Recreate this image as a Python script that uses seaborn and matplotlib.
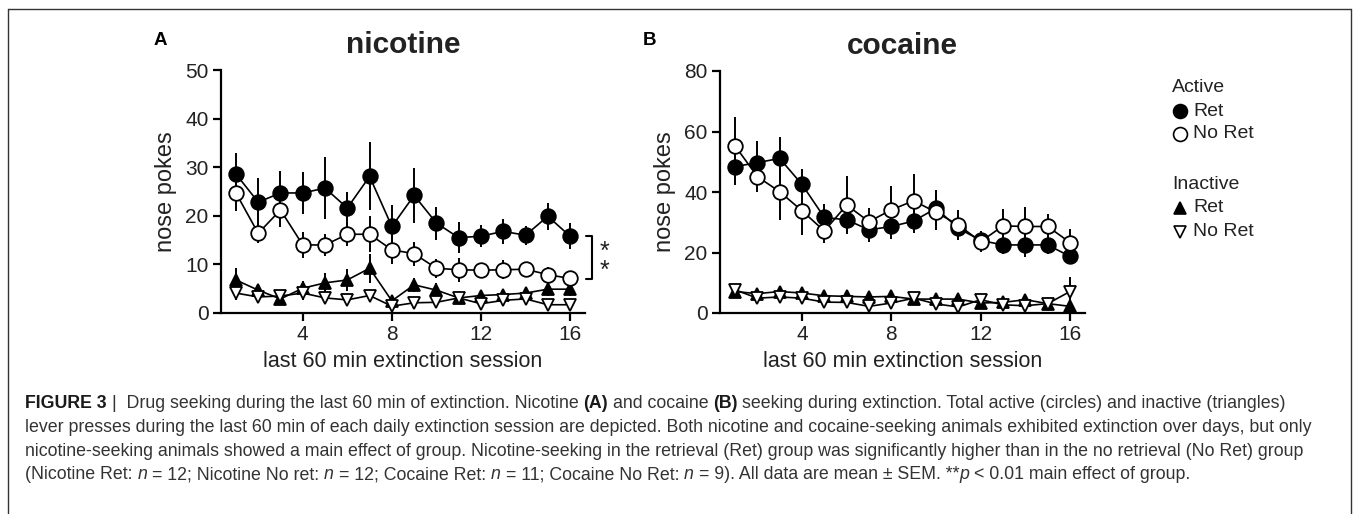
import numpy as np
import pandas as pd
import seaborn as sns
import matplotlib
matplotlib.use("Agg")
import matplotlib.pyplot as plt
from matplotlib.lines import Line2D
from matplotlib import font_manager as fm

# ---------------- data ----------------
sessions = list(range(1, 17))

# Panel A: nicotine
nic_act_ret = [28.6, 22.8, 24.7, 24.7, 25.7, 21.6, 28.1, 17.8, 24.2, 18.5, 15.5, 15.8, 16.8, 16.0, 19.9, 15.8]
nic_act_ret_sem = [4.4, 5.0, 4.5, 4.4, 6.3, 3.3, 7.0, 4.5, 5.6, 3.4, 3.2, 2.3, 2.5, 2.0, 2.8, 2.7]
nic_act_noret = [24.7, 16.4, 21.2, 14.0, 14.0, 16.2, 16.2, 13.0, 12.2, 9.2, 8.9, 8.8, 8.9, 9.0, 7.9, 7.1]
nic_act_noret_sem = [3.8, 2.0, 3.5, 2.7, 2.2, 2.5, 3.7, 3.0, 2.5, 2.0, 2.5, 1.5, 2.0, 1.5, 1.5, 1.0]
nic_inact_ret = [6.8, 4.7, 2.9, 5.1, 6.2, 6.8, 9.2, 2.5, 5.8, 4.7, 3.1, 3.6, 3.8, 4.1, 4.9, 4.9]
nic_inact_ret_sem = [2.4, 1.0, 0.8, 1.5, 2.0, 2.2, 3.0, 0.8, 1.5, 1.5, 0.8, 1.0, 1.0, 1.0, 1.5, 1.5]
nic_inact_noret = [4.1, 3.3, 3.5, 4.1, 3.1, 2.7, 3.6, 1.4, 2.1, 2.2, 3.1, 1.9, 2.6, 2.9, 1.7, 1.7]
nic_inact_noret_sem = [1.5, 1.0, 1.0, 1.5, 1.0, 1.0, 1.0, 0.8, 1.0, 1.0, 1.0, 0.8, 1.0, 1.0, 0.8, 0.8]

# Panel B: cocaine
coc_act_ret = [48.4, 49.7, 51.1, 42.5, 31.6, 30.8, 27.5, 28.6, 30.4, 34.6, 28.0, 24.0, 22.5, 22.5, 22.5, 18.7]
coc_act_ret_sem = [6.0, 7.0, 7.0, 5.0, 4.4, 4.0, 4.0, 4.0, 4.0, 6.0, 4.0, 3.0, 3.0, 4.0, 3.0, 2.5]
coc_act_noret = [55.3, 45.1, 40.1, 33.8, 27.1, 35.7, 30.2, 34.1, 37.1, 33.3, 29.1, 23.6, 28.8, 28.6, 28.6, 23.3]
coc_act_noret_sem = [9.6, 5.0, 9.3, 8.0, 4.0, 9.6, 4.5, 8.0, 8.8, 6.0, 5.0, 3.5, 5.5, 6.3, 4.0, 4.4]
coc_inact_ret = [7.1, 6.4, 7.1, 6.6, 5.7, 5.5, 5.3, 5.5, 4.6, 4.6, 4.6, 3.3, 3.5, 4.4, 3.1, 2.2]
coc_inact_ret_sem = [1.0, 1.0, 1.0, 1.0, 1.0, 1.0, 1.0, 1.0, 1.0, 1.0, 1.0, 0.8, 0.8, 1.0, 0.8, 0.8]
coc_inact_noret = [7.7, 4.9, 5.3, 4.9, 3.6, 3.5, 2.2, 3.3, 4.9, 3.0, 2.0, 4.4, 2.7, 2.4, 3.1, 7.1]
coc_inact_noret_sem = [1.0, 1.5, 1.5, 1.5, 1.0, 1.0, 1.0, 1.0, 1.0, 1.0, 1.0, 1.5, 1.0, 1.0, 1.0, 4.8]

x_ticks = [4, 8, 12, 16]
yticks_a = [0, 10, 20, 30, 40, 50]
yticks_b = [0, 20, 40, 60, 80]
titles = ["nicotine", "cocaine"]
panel_letters = ["A", "B"]
xlabel = "last 60 min extinction session"
ylabel = "nose pokes"
legend_groups = ["Active", "Inactive"]
legend_labels = ["Ret", "No Ret"]

caption_lines = [
    [("FIGURE 3", "bold", "normal"), ("|  Drug seeking during the last 60 min of extinction. Nicotine", "normal", "normal"),
     ("(A)", "bold", "normal"), ("and cocaine", "normal", "normal"), ("(B)", "bold", "normal"),
     ("seeking during extinction. Total active (circles) and inactive (triangles)", "normal", "normal")],
    [("lever presses during the last 60 min of each daily extinction session are depicted. Both nicotine and cocaine-seeking animals exhibited extinction over days, but only", "normal", "normal")],
    [("nicotine-seeking animals showed a main effect of group. Nicotine-seeking in the retrieval (Ret) group was significantly higher than in the no retrieval (No Ret) group", "normal", "normal")],
    [("(Nicotine Ret:", "normal", "normal"), ("n", "normal", "italic"), ("= 12; Nicotine No ret:", "normal", "normal"),
     ("n", "normal", "italic"), ("= 12; Cocaine Ret:", "normal", "normal"), ("n", "normal", "italic"),
     ("= 11; Cocaine No Ret:", "normal", "normal"), ("n", "normal", "italic"),
     ("= 9). All data are mean ± SEM. **", "normal", "normal"), ("p", "normal", "italic", True),
     ("< 0.01 main effect of group.", "normal", "normal")],
]

# ---------------- style ----------------
sns.set_theme(style="ticks")
plt.rcParams["font.family"] = ["Liberation Sans", "DejaVu Sans"]
TXT = "#222222"

W, H = 1354, 514
fig = plt.figure(figsize=(W / 100, H / 100), dpi=100)

def fx(px):
    return px / W

def fy(py):
    return 1 - py / H

ax_a = fig.add_axes([fx(221), fy(313), fx(585) - fx(221), fy(70) - fy(313)])
ax_b = fig.add_axes([fx(720), fy(313), fx(1085) - fx(720), fy(71) - fy(313)])

def draw_series(ax, y, sem, marker, filled, z, ms):
    ax.errorbar(sessions, y, yerr=sem, fmt="none", ecolor="black", elinewidth=1.4, capsize=0, zorder=z - 0.5)
    sns.lineplot(x=sessions, y=y, ax=ax, color="black", linewidth=1.2, marker=marker,
                 markersize=ms, markerfacecolor="black" if filled else "white",
                 markeredgecolor="black", markeredgewidth=1.3, errorbar=None, zorder=z)

panels = [
    (ax_a, [(nic_inact_ret, nic_inact_ret_sem, "^", True), (nic_inact_noret, nic_inact_noret_sem, "v", False),
            (nic_act_ret, nic_act_ret_sem, "o", True), (nic_act_noret, nic_act_noret_sem, "o", False)], 50, yticks_a),
    (ax_b, [(coc_inact_ret, coc_inact_ret_sem, "^", True), (coc_inact_noret, coc_inact_noret_sem, "v", False),
            (coc_act_ret, coc_act_ret_sem, "o", True), (coc_act_noret, coc_act_noret_sem, "o", False)], 80, yticks_b),
]

for i, (ax, series, ymax, yt) in enumerate(panels):
    for k, (y, s, m, f) in enumerate(series):
        draw_series(ax, y, s, m, f, 3 + k, 10.5 if m == "o" else 9)
    ax.set_xlim(0.33, 16.67)
    ax.set_ylim(0, ymax)
    ax.set_xticks(x_ticks)
    ax.set_yticks(yt)
    sns.despine(ax=ax)
    for sp in ["left", "bottom"]:
        ax.spines[sp].set_linewidth(1.6)
        ax.spines[sp].set_color("black")
    ax.tick_params(axis="both", direction="out", length=6, width=1.6, colors="black",
                   labelsize=15, labelcolor=TXT, pad=3)
    ax.set_xlabel(xlabel, fontsize=15.5, color=TXT, labelpad=5)
    ax.set_ylabel(ylabel, fontsize=17, color=TXT, labelpad=6)
    ax.set_title(titles[i], fontsize=21.5, fontweight="bold", color=TXT, pad=12)
    ax.set_facecolor("white")

fig.text(fx(160), fy(41), panel_letters[0], fontsize=13.5, fontweight="bold", color="black", ha="center", va="center")
fig.text(fx(650), fy(41), panel_letters[1], fontsize=13.5, fontweight="bold", color="black", ha="center", va="center")

# significance bracket in panel A
ax_a.plot([16.7, 16.98, 16.98, 16.7], [15.8, 15.8, 7.0, 7.0], color="black", lw=1.5, clip_on=False)
ax_a.text(17.55, 10.6, "*\n*", fontsize=18, ha="center", va="center", color=TXT, clip_on=False,
          linespacing=0.75)

# legend
leg_x_head = 1172
leg_x_mark = 1180
leg_x_lab = 1193
rows = [(legend_groups[0], 87, None), (legend_labels[0], 111, ("o", True)), (legend_labels[1], 134, ("o", False)),
        (legend_groups[1], 184, None), (legend_labels[0], 208, ("^", True)), (legend_labels[1], 232, ("v", False))]
for text, py, mk in rows:
    if mk is None:
        fig.text(fx(leg_x_head), fy(py), text, fontsize=14, color=TXT, ha="left", va="center")
    else:
        fig.add_artist(Line2D([fx(leg_x_mark)], [fy(py)], transform=fig.transFigure, marker=mk[0],
                              markersize=10 if mk[0] == "o" else 8.5, markerfacecolor="black" if mk[1] else "white",
                              markeredgecolor="black", markeredgewidth=1.2, linestyle="none"))
        fig.text(fx(leg_x_lab), fy(py), text, fontsize=14, color=TXT, ha="left", va="center")

# frame around figure
frame_col = "#333333"
fig.add_artist(Line2D([fx(8), fx(8)], [fy(9), 0], transform=fig.transFigure, color=frame_col, lw=1.0))
fig.add_artist(Line2D([fx(8), fx(1351)], [fy(9), fy(9)], transform=fig.transFigure, color=frame_col, lw=1.0))
fig.add_artist(Line2D([fx(1351), fx(1351)], [fy(9), 0], transform=fig.transFigure, color=frame_col, lw=1.0))

# caption
names = {f.name for f in fm.fontManager.ttflist}
cap_family = ["Liberation Sans Narrow", "DejaVu Sans"] if "Liberation Sans Narrow" in names else ["Liberation Sans", "DejaVu Sans"]
renderer = fig.canvas.get_renderer()

def text_width(s, size, weight="normal", style="normal"):
    t = fig.text(0, 0, s, fontsize=size, fontweight=weight, fontstyle=style, family=cap_family)
    w = t.get_window_extent(renderer).width
    t.remove()
    return w

base = 10.0
target = 1318 - 25
w2 = text_width(caption_lines[1][0][0], base)
cap_size = base * target / w2
space_w = text_width("x x", cap_size) - text_width("xx", cap_size)

baselines = [408, 432, 456, 479]
for line, by in zip(caption_lines, baselines):
    x = 25.0
    for j, run in enumerate(line):
        s, weight, style = run[0], run[1], run[2]
        nospace = len(run) > 3
        col = "#1a1a1a" if weight == "bold" else "#333333"
        t = fig.text(fx(x), fy(by), s, fontsize=cap_size, fontweight=weight, fontstyle=style,
                     family=cap_family, color=col, ha="left", va="baseline")
        x += t.get_window_extent(renderer).width
        if j + 1 < len(line):
            if s.endswith("**"):
                x += 0.5
            elif not nospace:
                x += space_w
            if nospace:
                x += space_w

fig.savefig("out.png", dpi=100, facecolor="white")
